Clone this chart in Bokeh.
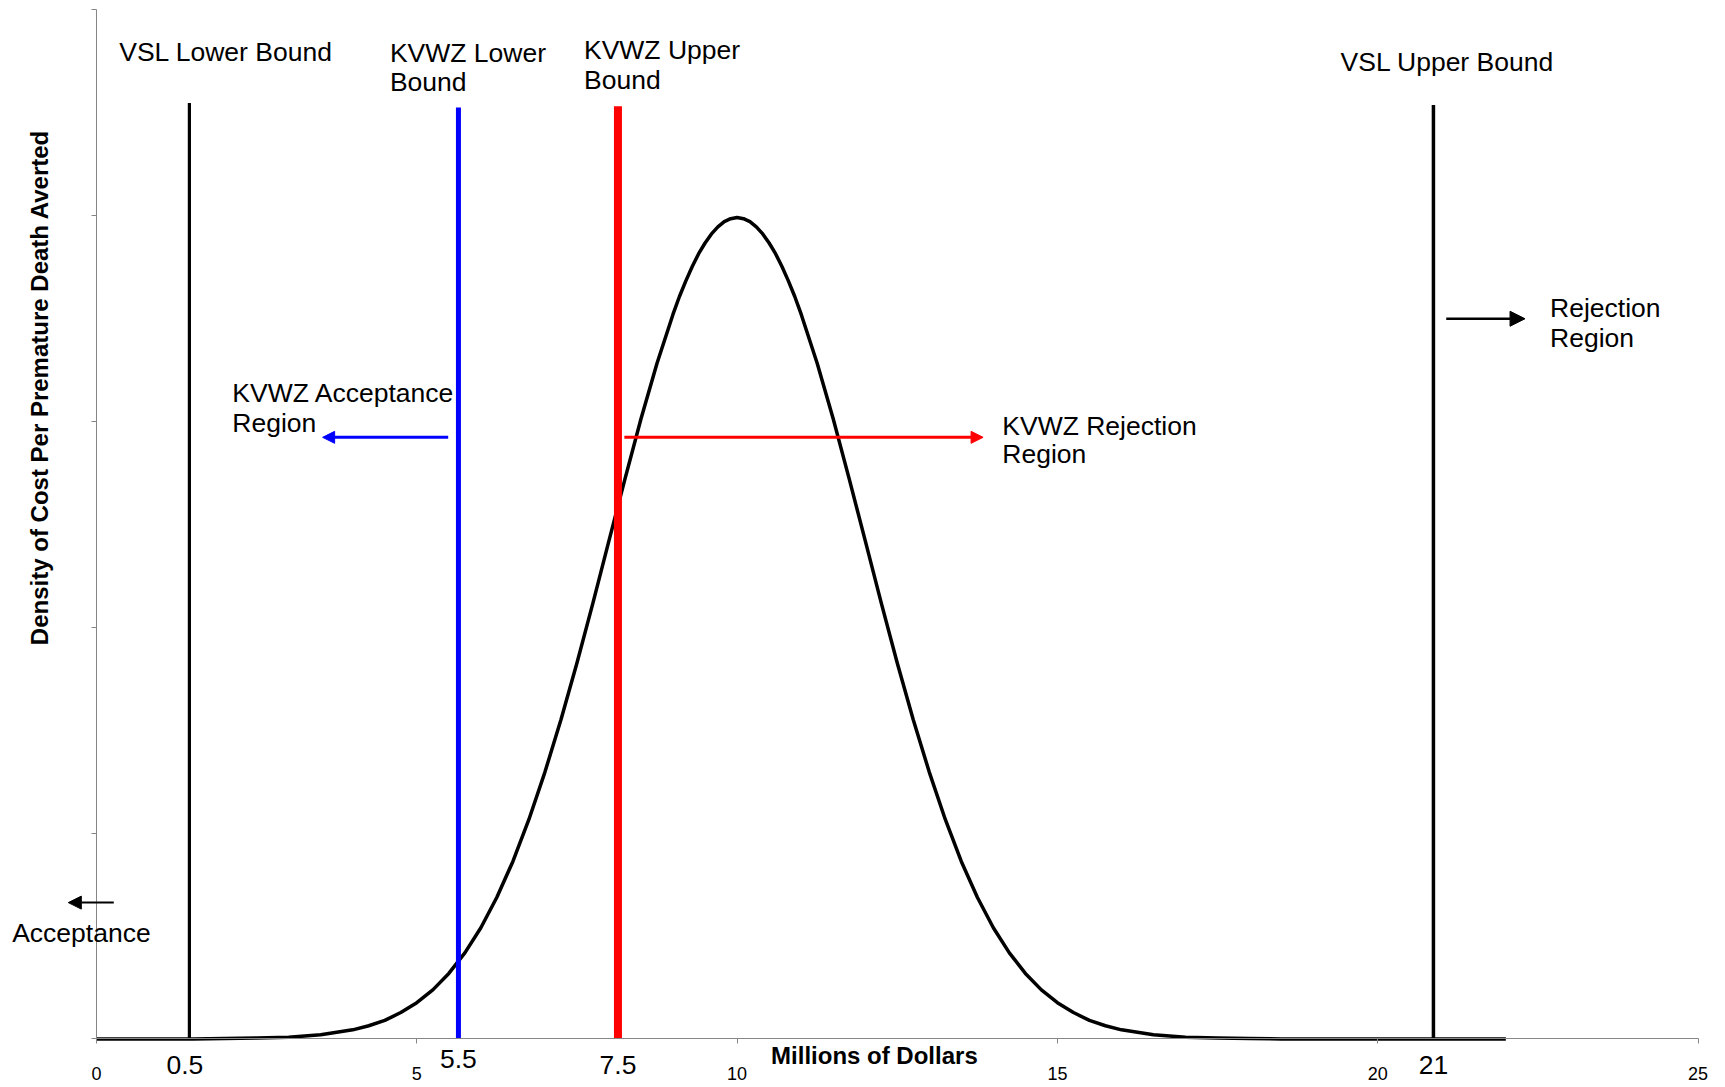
import math
from bokeh.plotting import figure
from bokeh.models import Range1d, FixedTicker, Label, Arrow, NormalHead, CustomJSTickFormatter
from bokeh.embed import file_html
from bokeh.resources import INLINE

# ---- data ----
x_vals = [0, 0.5, 1, 1.5, 2, 2.5, 3, 3.5, 4, 4.25, 4.5, 4.75, 5, 5.25, 5.5, 5.75,
          6, 6.25, 6.5, 6.75, 7, 7.25, 7.5, 7.75, 8, 8.25, 8.5, 8.75, 9,
          9.1, 9.2, 9.3, 9.4, 9.5, 9.6, 9.7, 9.8, 9.9, 10,
          10.1, 10.2, 10.3, 10.4, 10.5, 10.6, 10.7, 10.8, 10.9, 11,
          11.25, 11.5, 11.75, 12, 12.25, 12.5, 12.75, 13, 13.25, 13.5, 13.75,
          14, 14.25, 14.5, 14.75, 15, 15.25, 15.5, 15.75, 16, 16.5, 17, 17.5,
          18, 18.5, 19, 19.5, 20, 20.5, 21, 21.5, 22]
density = [0.0000, 0.0000, 0.0000, 0.0000, 0.0001, 0.0002, 0.0004, 0.0010, 0.0022, 0.0032,
           0.0045, 0.0064, 0.0088, 0.0119, 0.0159, 0.0209,
           0.0270, 0.0344, 0.0431, 0.0533, 0.0648, 0.0775, 0.0913, 0.1059, 0.1210, 0.1360,
           0.1506, 0.1641, 0.1760,
           0.1803, 0.1841, 0.1876, 0.1907, 0.1933, 0.1955, 0.1972, 0.1985, 0.1992, 0.1995,
           0.1992, 0.1985, 0.1972, 0.1955, 0.1933, 0.1907, 0.1876, 0.1841, 0.1803, 0.1760,
           0.1641, 0.1506, 0.1360, 0.1210, 0.1059, 0.0913, 0.0775, 0.0648, 0.0533, 0.0431, 0.0344,
           0.0270, 0.0209, 0.0159, 0.0119, 0.0088, 0.0064, 0.0045, 0.0032, 0.0022, 0.0010, 0.0004, 0.0002,
           0.0001, 0.0000, 0.0000, 0.0000, 0.0000, 0.0000, 0.0000, 0.0000, 0.0000]

bound_names = ["VSL Lower Bound", "KVWZ Lower Bound", "KVWZ Upper Bound", "VSL Upper Bound"]
bound_x = [1.45, 5.65, 8.14, 20.87]
bound_top = [0.2273, 0.2262, 0.2265, 0.2268]
bound_labels = ["0.5", "5.5", "7.5", "21"]
bound_label_x = [1.38, 5.65, 8.14, 20.87]

x_ticks = [0, 5, 10, 15, 20, 25]
y_ticks = [0, 0.05, 0.10, 0.15, 0.20, 0.25]

FONT = "Liberation Sans"

p = figure(frame_width=1720, frame_height=1085,
           min_border=0, min_border_left=0, min_border_right=0, min_border_top=0, min_border_bottom=0,
           x_range=Range1d(-1.4986, 25.3512), y_range=Range1d(-0.011317, 0.25219),
           output_backend="svg", toolbar_location=None)
p.outline_line_color = None
p.xgrid.visible = False
p.ygrid.visible = False
p.background_fill_color = "white"
p.border_fill_color = "white"

AX = "#868686"
p.xaxis.fixed_location = 0
p.xaxis.bounds = (0, 25)
p.xaxis.ticker = FixedTicker(ticks=x_ticks)
p.xaxis.axis_line_color = AX
p.xaxis.major_tick_line_color = AX
p.xaxis.minor_tick_line_color = None
p.xaxis.major_tick_out = 5
p.xaxis.major_tick_in = 0
p.xaxis.major_label_standoff = 23
p.xaxis.major_label_text_font = FONT
p.xaxis.major_label_text_font_size = "18px"
p.xaxis.major_label_text_color = "black"

p.yaxis.fixed_location = 0
p.yaxis.bounds = (0, 0.25)
p.yaxis.ticker = FixedTicker(ticks=y_ticks)
p.yaxis.axis_line_color = AX
p.yaxis.major_tick_line_color = AX
p.yaxis.minor_tick_line_color = None
p.yaxis.major_tick_out = 5
p.yaxis.major_tick_in = 0
p.yaxis.formatter = CustomJSTickFormatter(code="return ''")

# density curve
p.line(x_vals, density, line_color="black", line_width=3.5, line_join="round")

# vertical bounds
p.segment(x0=[bound_x[0]], y0=[0], x1=[bound_x[0]], y1=[bound_top[0]], line_color="black", line_width=3.2)
p.segment(x0=[bound_x[1]], y0=[0], x1=[bound_x[1]], y1=[bound_top[1]], line_color="#0000FF", line_width=5)
p.segment(x0=[bound_x[2]], y0=[0], x1=[bound_x[2]], y1=[bound_top[2]], line_color="#FF0000", line_width=8)
p.segment(x0=[bound_x[3]], y0=[0], x1=[bound_x[3]], y1=[bound_top[3]], line_color="black", line_width=3.5)

# arrows
p.add_layout(Arrow(x_start=0.27, y_start=0.0331, x_end=-0.44, y_end=0.0331, line_color="black", line_width=2,
                   end=NormalHead(size=13, fill_color="black", line_color="black")))
p.add_layout(Arrow(x_start=5.49, y_start=0.1461, x_end=3.53, y_end=0.1461, line_color="#0000FF", line_width=3,
                   end=NormalHead(size=12, fill_color="#0000FF", line_color="#0000FF")))
p.add_layout(Arrow(x_start=8.24, y_start=0.1461, x_end=13.84, y_end=0.1461, line_color="#FF0000", line_width=3,
                   end=NormalHead(size=12, fill_color="#FF0000", line_color="#FF0000")))
p.add_layout(Arrow(x_start=21.07, y_start=0.1749, x_end=22.30, y_end=0.1749, line_color="black", line_width=2.5,
                   end=NormalHead(size=15, fill_color="black", line_color="black")))

def txt(x, y, s, size="26.5px", style="normal", align="left", baseline="alphabetic", angle=0.0):
    p.add_layout(Label(x=x, y=y, text=s, text_font=FONT, text_font_size=size,
                       text_font_style=style, text_align=align, text_baseline=baseline,
                       text_color="black", angle=angle))

txt(0.355, 0.2396, "VSL Lower Bound")
txt(4.58, 0.2394, "KVWZ Lower")
txt(4.58, 0.2323, "Bound")
txt(7.61, 0.2401, "KVWZ Upper")
txt(7.61, 0.2329, "Bound")
txt(19.42, 0.2373, "VSL Upper Bound")
txt(22.69, 0.1776, "Rejection")
txt(22.69, 0.1702, "Region")
txt(2.12, 0.1568, "KVWZ Acceptance")
txt(2.12, 0.1495, "Region")
txt(14.14, 0.1489, "KVWZ Rejection")
txt(14.14, 0.1420, "Region")
txt(-1.316, 0.0257, "Acceptance")

label_y = [-0.0064, -0.0050, -0.0063, -0.0064]
for bx, ly, s in zip(bound_label_x, label_y, bound_labels):
    txt(bx, ly, s, align="center")

txt(10.53, -0.0041, "Millions of Dollars", size="24px", style="bold")
txt(-0.89, 0.1582, "Density of Cost Per Premature Death Averted", size="24px", style="bold",
    align="center", baseline="middle", angle=math.pi / 2)

open("out.html", "w").write(file_html(p, INLINE))
